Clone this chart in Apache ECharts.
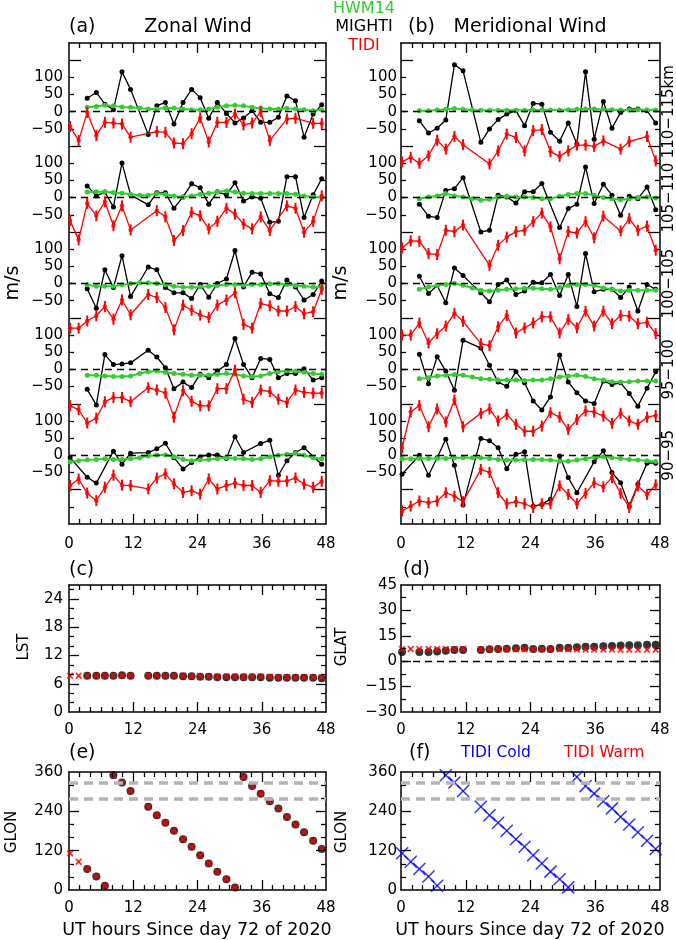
<!DOCTYPE html>
<html><head><meta charset="utf-8">
<script src="https://cdn.jsdelivr.net/npm/echarts@6/dist/echarts.min.js"></script>
<style>html,body{margin:0;padding:0;background:#fff}#c{width:676px;height:940px}</style>
</head><body><div id="c"></div>
<script>
const N = null;
// UT hours of each orbit pass
const hours = [0.2,1.8,3.4,5.1,6.7,8.3,9.9,11.5,13.2,14.8,16.4,18.0,19.6,21.3,22.9,24.5,26.1,27.7,29.4,31.0,32.6,34.2,35.8,37.5,39.1,40.7,42.3,43.9,45.6,47.2];
const xTicks = [0,12,24,36,48];
const bandLabels = ['110\u2212115km','105\u2212110','100\u2212105','95\u2212100','90\u221295'];

// Zonal wind (m/s)
const zonal110_MIGHTI = [N,N,39,56,22,6,116,65,N,-66,17,27,-36,27,65,41,-19,27,-5,-33,-18,3,-31,-31,-16,46,32,-74,-7,20];
const zonal110_HWM    = [N,N,13,15,19,17,14,13,11,8,8,11,11,8,6,6,8,13,17,19,17,13,10,8,8,10,8,6,3,6];
const zonal110_TIDI   = [-43,-84,-2,-69,-31,-33,-36,-74,N,N,-58,-60,-91,-93,-64,-18,-88,-31,-31,-7,-38,-33,0,-84,N,-21,-19,N,-34,-34];
const zonal105_MIGHTI = [N,N,34,5,16,-27,101,8,N,-21,14,14,-31,2,40,29,-19,17,8,43,-10,2,-2,-72,-69,61,61,-58,8,55];
const zonal105_HWM    = [N,N,16,17,17,15,13,10,7,7,12,10,5,2,5,10,13,16,19,16,13,12,12,12,12,12,10,5,2,0];
const zonal105_TIDI   = [-67,-123,-17,-53,-12,-82,-24,-94,N,N,-38,-56,-125,-96,-43,-53,-91,-69,-31,-48,-77,-91,-56,-96,N,-24,-31,-101,-69,5];
const zonal100_MIGHTI = [N,N,-15,-72,40,-12,81,-38,N,48,40,-12,-27,-27,-44,-3,-40,0,13,96,-10,33,28,-30,-41,10,-10,-48,-32,7];
const zonal100_HWM    = [N,N,-4,-8,-8,-8,-4,0,2,2,0,-3,-8,-11,-11,-10,-8,-6,-3,-3,-5,-3,-3,-1,0,-3,-6,-8,-10,-10];
const zonal100_TIDI   = [-130,-130,-109,-94,-67,-104,-48,-91,N,-32,-41,-70,-135,-63,-78,-92,-99,-63,-48,-27,-119,-130,-58,-65,-80,-80,-67,-88,-82,-17];
const zonal95_MIGHTI  = [N,N,-58,-104,43,14,16,19,N,56,36,5,-56,-37,-53,-14,-24,-5,14,90,14,-24,32,29,-24,-12,-12,2,-31,-24];
const zonal95_HWM     = [N,N,-17,-17,-19,-21,-21,-19,-12,-7,-5,-8,-12,-14,-17,-17,-16,-14,-12,-14,-19,-21,-19,-12,-7,-3,-5,-8,-12,-14];
const zonal95_TIDI    = [-106,-117,-156,-142,-94,-82,-82,-94,N,-53,-60,-69,-139,-62,-93,-106,-106,-56,-56,-2,-87,-96,-60,-65,-87,-96,-60,-67,-69,-69];
const zonal90_MIGHTI  = [-7,N,-64,-81,N,12,-26,6,N,8,19,35,-7,-40,-21,-4,1,1,-9,54,8,N,34,44,-58,-16,8,22,N,-26];
const zonal90_HWM     = [-19,-16,-13,-12,-10,-12,-12,-10,-7,-2,1,1,-4,-12,-16,-13,-12,-10,-7,-9,-10,-12,-10,-4,0,3,6,0,-7,-10];
const zonal90_TIDI    = [-88,-69,-110,-132,-93,-58,-87,-88,N,-98,-66,-54,-83,-108,-103,-113,-69,-98,-88,-81,-88,-88,-108,-74,-75,-75,-66,-84,-93,-76];

// Meridional wind (m/s)
const merid110_MIGHTI = [N,N,-26,-62,-48,-24,137,119,N,-89,-50,-23,-7,3,-41,24,22,-60,-86,-33,-94,116,-80,30,-48,-2,8,8,3,-33];
const merid110_HWM    = [N,N,3,3,5,7,9,7,5,4,4,4,4,4,4,5,5,5,5,6,7,8,8,7,6,5,5,6,6,5];
const merid110_TIDI   = [-146,-133,-150,-128,-83,-109,-72,-96,N,N,-152,-114,-65,-75,-114,-55,-52,-116,-130,-114,-97,-97,-101,-85,N,-109,-87,N,-72,-143];
const merid105_MIGHTI = [N,N,-19,-54,-58,21,26,58,N,-100,-95,7,2,-16,17,17,41,N,-87,-32,-19,89,-17,39,7,-51,4,-3,31,-35];
const merid105_HWM    = [N,N,-3,2,5,12,5,2,-3,-8,-5,2,4,2,2,0,-3,-3,4,9,12,12,7,0,-3,-6,-3,0,2,-1];
const merid105_TIDI   = [-146,-126,-127,-163,-166,-95,-99,-80,N,N,-197,-139,-115,-99,-95,-70,-45,-85,-178,-99,-103,-70,-117,-54,N,-97,-61,-95,-83,-153];
const merid100_MIGHTI = [N,N,21,-29,-6,-56,45,23,N,-27,-53,-3,10,-32,-22,4,2,26,-35,26,-67,87,-24,-17,-17,-41,-10,-80,-3,-17];
const merid100_HWM    = [N,N,-17,-10,-6,-3,0,-5,-13,-20,-22,-20,-17,-15,-14,-14,-15,-17,-12,-6,-3,-3,-6,-13,-17,-22,-20,-20,-20,-20];
const merid100_TIDI   = [-150,-150,-115,-173,-146,-124,-87,-110,N,-175,-181,-126,-93,-144,-129,-115,-97,-97,-144,-105,-129,-81,-124,-81,-117,-93,-95,-117,-113,-146];
const merid95_MIGHTI  = [N,N,44,-42,37,-5,-61,85,N,62,12,-37,-49,-7,-39,-92,-118,-80,42,-37,-68,-92,-99,-34,-44,-39,-70,-107,-55,-7];
const merid95_HWM     = [N,N,-27,-24,-19,-17,-15,-17,-22,-27,-29,-31,-31,-31,-32,-31,-31,-27,-22,-19,-17,-21,-27,-31,-36,-37,-36,-34,-34,-34];
const merid95_TIDI    = [-228,-124,-105,-167,-115,-153,-89,-167,N,-128,-115,-150,-131,-160,-180,-180,-165,-126,-139,-175,-146,-121,-124,-136,-157,-128,-150,-160,-139,-134];
const merid90_MIGHTI  = [-55,N,0,-58,-7,47,-29,-145,N,49,42,22,-39,3,10,-148,-143,-128,-2,-65,-109,N,-19,13,-50,-80,-148,-84,-23,-23];
const merid90_HWM     = [-10,-10,-9,-9,-9,-9,-7,-7,-7,-7,-9,-12,-14,-14,-12,-12,-12,-14,-17,-17,-14,-10,-5,-4,-7,-9,-12,-14,-16,-18];
const merid90_TIDI    = [-162,-148,-133,-138,-133,-109,-119,-135,N,-41,-50,-109,-141,-135,-141,-152,-141,-141,-89,-114,-141,-111,-80,-92,-65,-111,-152,-89,-114,-86];

// Local solar time (h), latitude and longitude (deg)
const lstMIGHTI  = [N,N,7.7,7.7,7.7,7.7,7.8,7.7,N,7.7,7.7,7.7,7.7,7.6,7.6,7.5,7.5,7.4,7.4,7.4,7.4,7.4,7.4,7.3,7.3,7.3,7.3,7.3,7.3,7.2];
const lstTIDI    = [7.7,7.7,7.7,7.7,7.7,7.7,7.7,7.7,N,7.7,7.7,7.7,7.7,7.7,7.6,7.6,7.6,7.5,7.5,7.5,7.5,7.5,7.5,7.5,7.4,7.4,7.4,7.4,7.4,7.4];
const glatMIGHTI = [5.5,N,5.5,5.5,5.8,6.2,6.6,6.6,N,6.6,7.0,7.2,7.4,7.6,7.9,7.2,7.4,7.2,7.9,7.9,8.2,8.6,8.6,8.8,9.0,9.2,9.4,9.4,9.7,9.7];
const glatTIDI   = [7.2,7.2,7.2,7.2,7.2,7.2,7.2,7.2,N,7.1,7.1,7.1,7.1,7.1,7.0,7.0,7.0,7.0,7.0,7.0,6.9,6.9,6.9,6.9,6.9,6.8,6.8,6.8,6.8,6.8];
const glonMIGHTI = [N,N,64,41,13,350,328,302,N,254,228,205,181,155,132,106,81,56,33,8,345,317,294,271,249,223,200,176,150,125];
const glonTIDI   = [112,86,64,41,13,350,328,302,N,254,228,205,181,155,132,106,81,56,33,8,345,317,294,271,249,223,200,176,150,125];
const glonRefLines = [328, 278];

const zonalBands = [
  [zonal110_MIGHTI, zonal110_HWM, zonal110_TIDI],
  [zonal105_MIGHTI, zonal105_HWM, zonal105_TIDI],
  [zonal100_MIGHTI, zonal100_HWM, zonal100_TIDI],
  [zonal95_MIGHTI, zonal95_HWM, zonal95_TIDI],
  [zonal90_MIGHTI, zonal90_HWM, zonal90_TIDI]
];
const meridBands = [
  [merid110_MIGHTI, merid110_HWM, merid110_TIDI],
  [merid105_MIGHTI, merid105_HWM, merid105_TIDI],
  [merid100_MIGHTI, merid100_HWM, merid100_TIDI],
  [merid95_MIGHTI, merid95_HWM, merid95_TIDI],
  [merid90_MIGHTI, merid90_HWM, merid90_TIDI]
];

// ---------- layout / styling ----------
const FONT = 'DejaVu Sans';
const BAND_STEP = 250;
const bandOffset = k => (4 - k) * BAND_STEP;
const LONG_TICKS = [-100, 150, 400, 650, 900, 1150];
const GREEN = '#33cc33', RED = '#ff0000', BLUE = '#0000ff';

const grids = [
  {left:69, top:43, width:257, height:481},
  {left:401, top:43, width:259, height:481},
  {left:69, top:585, width:257, height:127},
  {left:401, top:585, width:259, height:127},
  {left:69, top:772, width:257, height:118},
  {left:401, top:772, width:259, height:118}
];

const minus = v => (v < 0 ? '\u2212' + (-v) : String(v));
function windLabel(v) {
  v = Math.round(v);
  if (v < -50 || v > 1100) return '';
  const r = ((v % BAND_STEP) + BAND_STEP) % BAND_STEP;
  if (r === 150) return '';
  return minus(r > 150 ? r - BAND_STEP : r);
}

function makeAxis(g, pos, min, max, interval, label) {
  return {
    gridIndex: g, type: 'value', position: pos, min: min, max: max, interval: interval,
    splitLine: {show: false}, minorSplitLine: {show: false},
    axisLine: {show: true, onZero: false, lineStyle: {color: '#000', width: 1.5}},
    axisTick: {show: false}, minorTick: {show: false},
    axisLabel: label ? Object.assign({show: true, color: '#000', fontSize: 15, fontFamily: FONT,
      showMinLabel: true, showMaxLabel: true}, label) : {show: false}
  };
}

const xAxes = [], yAxes = [], xIdx = [], yIdx = [];
grids.forEach((gr, g) => {
  xIdx[g] = xAxes.length;
  xAxes.push(makeAxis(g, 'bottom', 0, 48, 12,
    {margin: g < 2 ? 13 : 11, formatter: v => (xTicks.indexOf(v) >= 0 ? String(v) : '')}));
  xAxes.push(makeAxis(g, 'top', 0, 48, 12, null));
});

// y-axis settings; tick lists are [value, length in px]
function tickList(from, to, step, isMajor, majorLen, minorLen) {
  const out = [];
  for (let v = from; v < to - 1e-9; v += step) out.push([v, isMajor(v) ? majorLen : minorLen]);
  return out;
}
const isMult = m => v => Math.abs(v / m - Math.round(v / m)) < 1e-6;
const windTicks = tickList(-150, 1200, 50, v => LONG_TICKS.indexOf(v) >= 0, 12, 5);
const yCfg = [
  {min: -200, max: 1200, interval: 50, fmt: windLabel, margin: 6, ticks: windTicks},
  {min: -200, max: 1200, interval: 50, fmt: windLabel, margin: 4, ticks: windTicks},
  {min: 0, max: 27, interval: 6, fmt: v => (v > 24 ? '' : String(v)), margin: 6, ticks: tickList(2, 27, 2, isMult(6), 10, 5)},
  {min: -30, max: 45, interval: 15, fmt: minus, margin: 4, ticks: tickList(-22.5, 45, 7.5, isMult(15), 10, 5)},
  {min: 0, max: 360, interval: 120, fmt: v => String(v), margin: 6, ticks: tickList(40, 360, 40, isMult(120), 10, 5)},
  {min: 0, max: 360, interval: 120, fmt: v => String(v), margin: 4, ticks: tickList(40, 360, 40, isMult(120), 10, 5)}
];
yCfg.forEach((c, g) => {
  yIdx[g] = yAxes.length;
  yAxes.push(makeAxis(g, 'left', c.min, c.max, c.interval, {margin: c.margin, formatter: c.fmt}));
  yAxes.push(makeAxis(g, 'right', c.min, c.max, c.interval, null));
});

function pts(arr, off) {
  const out = [];
  arr.forEach((v, i) => { if (v !== null) out.push([hours[i], v + (off || 0)]); });
  return out;
}

const series = [];
function onGrid(g, s) { s.xAxisIndex = xIdx[g]; s.yAxisIndex = yIdx[g]; series.push(s); return s; }

// inward tick marks on all four sides of each panel, as segments in axis space
grids.forEach((gr, g) => {
  const c = yCfg[g];
  const dyPerPx = (c.max - c.min) / gr.height, dxPerPx = 48 / gr.width;
  const segs = [];
  for (let x = 2; x < 48; x += 2) {
    const len = (x % 12 === 0 ? 10 : 5) * dyPerPx;
    segs.push([{coord: [x, c.min]}, {coord: [x, c.min + len]}]);
    segs.push([{coord: [x, c.max]}, {coord: [x, c.max - len]}]);
  }
  c.ticks.forEach(t => {
    const len = t[1] * dxPerPx;
    segs.push([{coord: [0, t[0]]}, {coord: [len, t[0]]}]);
    segs.push([{coord: [48, t[0]]}, {coord: [48 - len, t[0]]}]);
  });
  onGrid(g, {
    type: 'line', data: [[0, c.min]], symbol: 'none', showSymbol: false, silent: true, clip: false,
    lineStyle: {width: 0, opacity: 0}, z: 6,
    markLine: {silent: true, animation: false, symbol: ['none', 'none'], label: {show: false},
      lineStyle: {color: '#000', width: 1.3, type: 'solid'}, data: segs}
  });
});

// X-shaped marker = two thin bars rotated by +/-45 degrees
function crossMarks(g, data, color, len, thick, z) {
  [45, -45].forEach(rot => onGrid(g, {type: 'scatter', data: data, symbol: 'rect', symbolSize: [thick, len],
    symbolRotate: rot, itemStyle: {color: color}, z: z, silent: true}));
}

[zonalBands, meridBands].forEach((bands, g) => {
  bands.forEach((b, k) => {
    const off = bandOffset(k);
    onGrid(g, {
      type: 'line', data: pts(b[0], off), symbol: 'circle', symbolSize: 5,
      lineStyle: {color: '#000', width: 1.3}, itemStyle: {color: '#000'}, z: 3,
      markLine: {silent: true, symbol: ['none', 'none'], label: {show: false},
        lineStyle: {color: '#000', width: 1.3, type: [7, 5]}, data: [{yAxis: off}]}
    });
    onGrid(g, {
      type: 'line', data: pts(b[1], off), symbol: 'circle', symbolSize: 5,
      lineStyle: {color: GREEN, width: 2}, itemStyle: {color: GREEN}, z: 4
    });
    const tidi = pts(b[2], off);
    onGrid(g, {
      type: 'line', data: tidi, symbol: 'rect', symbolSize: [2, 11],
      lineStyle: {color: RED, width: 1.3}, itemStyle: {color: RED}, z: 5
    });
    onGrid(g, {type: 'scatter', data: tidi, symbol: 'circle', symbolSize: 4.5, itemStyle: {color: RED}, z: 5, silent: true});
  });
});

// (c) LST
onGrid(2, {type: 'scatter', data: pts(lstMIGHTI), symbol: 'circle', symbolSize: 8, itemStyle: {color: '#000'}, z: 3});
crossMarks(2, pts(lstTIDI), RED, 8, 1.8, 4);
// (d) GLAT
onGrid(3, {type: 'scatter', data: pts(glatMIGHTI), symbol: 'circle', symbolSize: 8, itemStyle: {color: '#000'}, z: 3,
  markLine: {silent: true, symbol: ['none', 'none'], label: {show: false},
    lineStyle: {color: '#000', width: 1.3, type: [7, 5]}, data: [{yAxis: 0}]}});
crossMarks(3, pts(glatTIDI), RED, 8, 1.8, 4);
// (e) GLON
onGrid(4, {type: 'scatter', data: pts(glonMIGHTI), symbol: 'circle', symbolSize: 8, itemStyle: {color: '#000'}, z: 3,
  markLine: {silent: true, symbol: ['none', 'none'], label: {show: false},
    lineStyle: {color: '#b4b4b4', width: 3.5, type: [9, 6]}, data: glonRefLines.map(v => ({yAxis: v}))}});
crossMarks(4, pts(glonTIDI), RED, 8, 1.8, 4);
// (f) TIDI cold
onGrid(5, {type: 'scatter', data: pts(glonTIDI), symbol: 'none', z: 2,
  markLine: {silent: true, symbol: ['none', 'none'], label: {show: false},
    lineStyle: {color: '#b4b4b4', width: 3.5, type: [9, 6]}, data: glonRefLines.map(v => ({yAxis: v}))}});
crossMarks(5, pts(glonTIDI), BLUE, 17, 1.5, 4);

function txt(text, x, y, opt) {
  opt = opt || {};
  return {type: 'text', x: x, y: y, rotation: opt.rot ? Math.PI / 2 : 0, z: 10,
    style: {text: text, fill: opt.color || '#000', fontSize: opt.size || 15, fontFamily: FONT,
      align: opt.align || 'center', verticalAlign: 'middle'}};
}
const graphics = [
  txt('(a)', 69, 27, {align: 'left', size: 19}),
  txt('Zonal Wind', 198, 27, {size: 19}),
  txt('HWM14', 364, 9, {color: GREEN, size: 16}),
  txt('MIGHTI', 364, 27, {size: 16}),
  txt('TIDI', 364, 46, {color: RED, size: 16}),
  txt('(b)', 408, 27, {align: 'left', size: 19}),
  txt('Meridional Wind', 530, 27, {size: 19}),
  txt('m/s', 13, 283, {rot: true, size: 19}),
  txt('m/s', 341, 283, {rot: true, size: 19}),
  txt('(c)', 69, 570, {align: 'left', size: 19}),
  txt('LST', 24, 647, {rot: true}),
  txt('(d)', 403, 570, {align: 'left', size: 19}),
  txt('GLAT', 342, 647, {rot: true}),
  txt('(e)', 69, 753, {align: 'left', size: 19}),
  txt('GLON', 12, 832, {rot: true}),
  txt('(f)', 409, 753, {align: 'left', size: 19}),
  txt('GLON', 342, 832, {rot: true}),
  txt('TIDI Cold', 496, 753, {color: BLUE, size: 15.5}),
  txt('TIDI Warm', 604, 753, {color: RED, size: 15.5}),
  txt('UT hours Since day 72 of 2020', 197, 930, {size: 17.5}),
  txt('UT hours Since day 72 of 2020', 530, 930, {size: 17.5})
];
bandLabels.forEach((lab, k) => {
  const yPix = grids[1].top + (1200 - bandOffset(k)) / 1400 * grids[1].height;
  graphics.push(txt(lab, 669, yPix, {rot: true}));
});

const chart = echarts.init(document.getElementById('c'), null, {width: 676, height: 940});
chart.setOption({
  animation: false,
  backgroundColor: '#fff',
  grid: grids,
  xAxis: xAxes,
  yAxis: yAxes,
  series: series,
  graphic: graphics
});
</script>
</body></html>
